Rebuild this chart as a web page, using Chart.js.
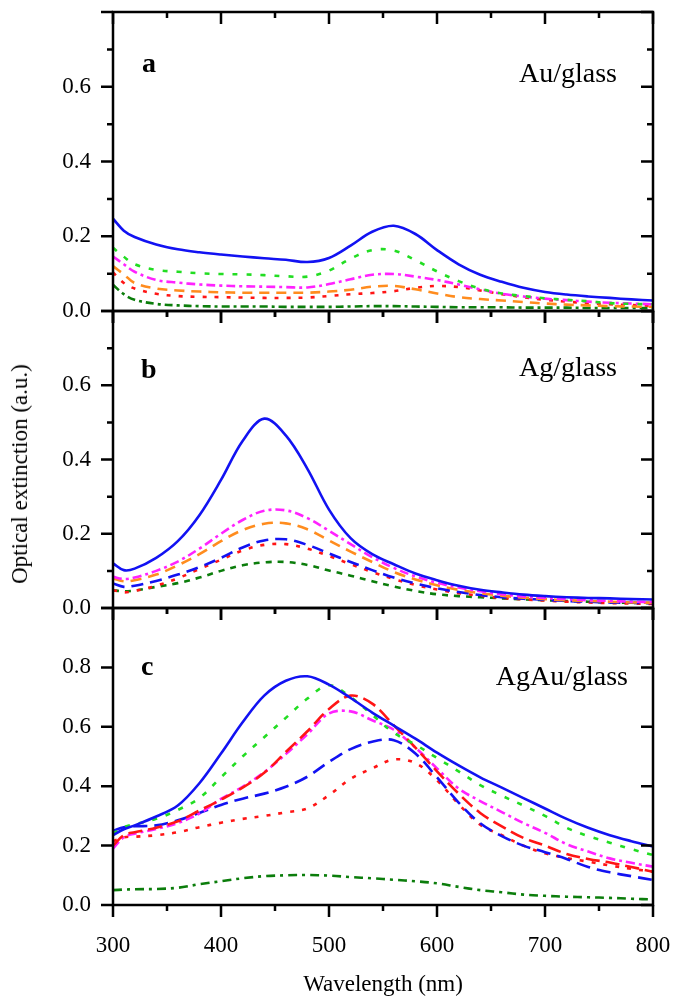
<!DOCTYPE html>
<html>
<head>
<meta charset="utf-8">
<script src="https://cdn.jsdelivr.net/npm/chart.js@4.4.1/dist/chart.umd.min.js"></script>
<style>
  body { margin: 0; background: #fff; }
  #wrap { position: relative; width: 674px; height: 1001px; overflow: hidden; }
  canvas { position: absolute; left: 0; }
  #ytitle {
    position: absolute; left: 20px; top: 474px;
    transform: translate(-50%, -50%) rotate(-90deg);
    white-space: nowrap; font: 23px "Liberation Serif", serif; color: #000;
  }
</style>
</head>
<body>
<div id="wrap">
  <canvas id="chartA" width="674" height="345" style="top:-10px"></canvas>
  <canvas id="chartB" width="674" height="345" style="top:290px"></canvas>
  <canvas id="chartC" width="674" height="414" style="top:587px"></canvas>
  <div id="ytitle">Optical extinction (a.u.)</div>
</div>
<script>
// wavelength grid (nm)
var wavelength = [300, 310, 320, 340, 360, 380, 400, 420, 440, 460, 480, 500, 520, 540, 560, 580, 600, 620, 640, 660, 680, 700, 720, 740, 760, 780, 800];

// panel a : Au/glass
var auSolid   = [0.247, 0.215, 0.198, 0.178, 0.165, 0.157, 0.151, 0.146, 0.141, 0.137, 0.131, 0.142, 0.175, 0.212, 0.228, 0.206, 0.163, 0.125, 0.097, 0.078, 0.062, 0.051, 0.044, 0.039, 0.035, 0.031, 0.028];
var auGreen   = [0.169, 0.145, 0.125, 0.110, 0.105, 0.101, 0.099, 0.098, 0.096, 0.093, 0.092, 0.108, 0.140, 0.163, 0.162, 0.136, 0.106, 0.080, 0.060, 0.047, 0.040, 0.034, 0.030, 0.026, 0.021, 0.019, 0.018];
var auMagenta = [0.146, 0.125, 0.105, 0.083, 0.076, 0.071, 0.068, 0.066, 0.065, 0.064, 0.063, 0.072, 0.085, 0.097, 0.099, 0.092, 0.083, 0.071, 0.058, 0.046, 0.039, 0.033, 0.029, 0.025, 0.022, 0.020, 0.018];
var auOrange  = [0.120, 0.098, 0.075, 0.060, 0.055, 0.052, 0.050, 0.049, 0.049, 0.049, 0.049, 0.052, 0.057, 0.065, 0.067, 0.058, 0.047, 0.037, 0.032, 0.028, 0.024, 0.020, 0.017, 0.015, 0.013, 0.012, 0.011];
var auRed     = [0.103, 0.075, 0.060, 0.046, 0.040, 0.038, 0.037, 0.036, 0.035, 0.035, 0.036, 0.040, 0.045, 0.048, 0.053, 0.062, 0.067, 0.064, 0.055, 0.045, 0.037, 0.030, 0.025, 0.021, 0.018, 0.016, 0.014];
var auDkGreen = [0.070, 0.045, 0.030, 0.019, 0.015, 0.013, 0.012, 0.012, 0.012, 0.011, 0.011, 0.011, 0.012, 0.013, 0.013, 0.012, 0.011, 0.010, 0.010, 0.010, 0.009, 0.009, 0.009, 0.008, 0.008, 0.008, 0.008];

// panel b : Ag/glass
var agSolid    = [0.120, 0.102, 0.106, 0.135, 0.180, 0.250, 0.345, 0.450, 0.510, 0.465, 0.375, 0.265, 0.188, 0.145, 0.118, 0.093, 0.075, 0.060, 0.049, 0.042, 0.036, 0.032, 0.029, 0.027, 0.026, 0.024, 0.023];
var agMagenta  = [0.084, 0.078, 0.082, 0.100, 0.125, 0.160, 0.200, 0.237, 0.262, 0.263, 0.242, 0.208, 0.172, 0.137, 0.108, 0.085, 0.068, 0.055, 0.045, 0.037, 0.031, 0.027, 0.024, 0.021, 0.019, 0.017, 0.016];
var agOrange   = [0.080, 0.072, 0.075, 0.090, 0.115, 0.145, 0.180, 0.210, 0.227, 0.228, 0.212, 0.182, 0.152, 0.124, 0.097, 0.077, 0.061, 0.049, 0.040, 0.033, 0.028, 0.024, 0.021, 0.019, 0.017, 0.015, 0.014];
var agBlueDash = [0.066, 0.057, 0.060, 0.073, 0.090, 0.110, 0.135, 0.163, 0.182, 0.185, 0.170, 0.147, 0.124, 0.102, 0.082, 0.066, 0.053, 0.043, 0.035, 0.029, 0.025, 0.022, 0.019, 0.017, 0.015, 0.014, 0.013];
var agRed      = [0.048, 0.042, 0.046, 0.060, 0.080, 0.105, 0.130, 0.155, 0.170, 0.172, 0.160, 0.140, 0.118, 0.097, 0.078, 0.062, 0.050, 0.040, 0.033, 0.027, 0.023, 0.020, 0.017, 0.015, 0.013, 0.012, 0.011];
var agDkGreen  = [0.048, 0.045, 0.047, 0.057, 0.067, 0.082, 0.100, 0.115, 0.123, 0.124, 0.116, 0.101, 0.087, 0.072, 0.058, 0.046, 0.037, 0.032, 0.029, 0.026, 0.023, 0.021, 0.019, 0.017, 0.015, 0.014, 0.013];

// panel c : AgAu/glass
var agauSolid    = [0.235, 0.255, 0.268, 0.298, 0.335, 0.410, 0.510, 0.615, 0.705, 0.755, 0.770, 0.742, 0.697, 0.648, 0.604, 0.560, 0.513, 0.470, 0.430, 0.395, 0.360, 0.325, 0.290, 0.260, 0.235, 0.215, 0.197];
var agauGreen    = [0.240, 0.262, 0.272, 0.290, 0.320, 0.360, 0.430, 0.500, 0.565, 0.630, 0.695, 0.740, 0.700, 0.640, 0.580, 0.540, 0.495, 0.450, 0.404, 0.368, 0.335, 0.300, 0.260, 0.232, 0.210, 0.188, 0.168];
var agauRedDash  = [0.200, 0.235, 0.245, 0.260, 0.282, 0.318, 0.355, 0.395, 0.445, 0.515, 0.585, 0.660, 0.705, 0.678, 0.605, 0.530, 0.450, 0.375, 0.310, 0.265, 0.226, 0.200, 0.172, 0.155, 0.143, 0.128, 0.112];
var agauMagenta  = [0.190, 0.228, 0.240, 0.256, 0.276, 0.308, 0.357, 0.398, 0.447, 0.508, 0.575, 0.645, 0.652, 0.622, 0.590, 0.530, 0.460, 0.392, 0.350, 0.313, 0.276, 0.243, 0.205, 0.180, 0.157, 0.142, 0.129];
var agauBlueDash = [0.250, 0.262, 0.265, 0.268, 0.285, 0.310, 0.337, 0.358, 0.375, 0.398, 0.432, 0.482, 0.525, 0.550, 0.555, 0.510, 0.430, 0.345, 0.275, 0.232, 0.200, 0.178, 0.155, 0.128, 0.110, 0.097, 0.084];
var agauRedDot   = [0.215, 0.228, 0.230, 0.235, 0.245, 0.262, 0.277, 0.290, 0.300, 0.312, 0.325, 0.370, 0.425, 0.460, 0.490, 0.478, 0.420, 0.340, 0.270, 0.235, 0.200, 0.174, 0.158, 0.146, 0.133, 0.122, 0.112];
var agauDkGreen  = [0.050, 0.052, 0.053, 0.054, 0.058, 0.070, 0.080, 0.090, 0.097, 0.100, 0.101, 0.099, 0.094, 0.090, 0.085, 0.080, 0.073, 0.061, 0.050, 0.043, 0.035, 0.031, 0.028, 0.026, 0.024, 0.021, 0.019];

var BLUE = '#1212f2', GREEN = '#22dd22', MAGENTA = '#ff22ff', ORANGE = '#ff8c1e', RED = '#ff1515', DKGREEN = '#0b7d0b';

Chart.defaults.font.family = '"Liberation Serif", "Times New Roman", serif';
Chart.defaults.color = '#000';

function line(values, color, dash) {
  return {
    data: wavelength.map(function (w, i) { return { x: w, y: values[i] }; }),
    borderColor: color,
    borderDash: dash,
    borderWidth: 2.6,
    pointRadius: 0,
    fill: false,
    tension: 0.35
  };
}

// box around each panel, with outward ticks left/bottom and inward ticks top/right
var frameTicks = {
  id: 'frameTicks',
  afterDatasetsDraw: function (chart) {
    var ctx = chart.ctx, a = chart.chartArea, xs = chart.scales.x, ys = chart.scales.y;
    ctx.save();
    ctx.strokeStyle = '#000';
    ctx.lineWidth = 2.5;
    ctx.beginPath();
    xs.ticks.forEach(function (t) {
      var px = xs.getPixelForValue(t.value), len = t.value % 100 === 0 ? 12 : 6;
      ctx.moveTo(px, a.bottom); ctx.lineTo(px, a.bottom + len);
      ctx.moveTo(px, a.top); ctx.lineTo(px, a.top + len);
    });
    ys.ticks.forEach(function (t) {
      var py = ys.getPixelForValue(t.value), len = Math.round(t.value * 10) % 2 === 0 ? 12 : 6;
      ctx.moveTo(a.left, py); ctx.lineTo(a.left - len, py);
      ctx.moveTo(a.right, py); ctx.lineTo(a.right - len, py);
    });
    ctx.stroke();
    ctx.strokeRect(a.left, a.top, a.right - a.left, a.bottom - a.top);
    ctx.restore();
  }
};

var panelText = {
  id: 'panelText',
  afterDraw: function (chart, args, o) {
    var ctx = chart.ctx, top = chart.chartArea.top;
    ctx.save();
    ctx.fillStyle = '#000';
    ctx.textBaseline = 'alphabetic';
    ctx.font = 'bold 28px "Liberation Serif"';
    ctx.textAlign = 'left';
    ctx.fillText(o.letter, o.letterX, top + o.letterY);
    ctx.font = '28px "Liberation Serif"';
    ctx.textAlign = 'right';
    ctx.fillText(o.name, o.nameX, top + o.nameY);
    ctx.restore();
  }
};

// label offsets come from invisible tick marks (tickLength) rather than
// ticks.padding, since ticks.padding also pushes the plot area inwards
function panel(id, sets, yMax, pad, txt, bottom) {
  var topK = Math.round(yMax * 10);
  var x = {
    type: 'linear', min: 300, max: 800, display: bottom,
    grid: { drawOnChartArea: false, drawTicks: true, tickLength: 25, tickColor: 'rgba(0,0,0,0)' },
    border: { display: false },
    ticks: {
      stepSize: 50, autoSkip: false, maxRotation: 0, padding: 2,
      font: { size: 23 },
      callback: function (v) { return v % 100 === 0 ? String(v) : ''; }
    },
    title: { display: bottom, text: 'Wavelength (nm)', font: { size: 23 }, padding: { top: 0, bottom: 2 } }
  };
  if (bottom) x.afterFit = function (s) { s.height = 96; };
  new Chart(document.getElementById(id), {
    type: 'line',
    data: { datasets: sets },
    options: {
      animation: false,
      responsive: false,
      devicePixelRatio: 1,
      layout: { padding: pad },
      plugins: { legend: { display: false }, tooltip: { enabled: false }, panelText: txt },
      scales: {
        x: x,
        y: {
          min: 0, max: yMax,
          grid: { drawOnChartArea: false, drawTicks: true, tickLength: 20, tickColor: 'rgba(0,0,0,0)' },
          border: { display: false },
          ticks: {
            stepSize: 0.1, padding: 2, font: { size: 23 },
            callback: function (v) {
              var k = Math.round(v * 10);
              return (k % 2 === 0 && k < topK) ? v.toFixed(1) : '';
            }
          },
          afterFit: function (s) { s.width = 113; }
        }
      }
    },
    plugins: [frameTicks, panelText]
  });
}

panel('chartA', [
  line(auSolid, BLUE, []),
  line(auGreen, GREEN, [5, 9]),
  line(auMagenta, MAGENTA, [9, 4, 3, 4]),
  line(auOrange, ORANGE, [10, 7]),
  line(auRed, RED, [4, 8]),
  line(auDkGreen, DKGREEN, [8, 4, 3, 4])
], 0.8, { left: 0, right: 21, top: 22, bottom: 24 },
  { letter: 'a', letterX: 142, letterY: 60, name: 'Au/glass', nameX: 617, nameY: 70 }, false);

panel('chartB', [
  line(agSolid, BLUE, []),
  line(agMagenta, MAGENTA, [9, 4, 3, 4]),
  line(agOrange, ORANGE, [11, 7]),
  line(agBlueDash, BLUE, [12, 7]),
  line(agRed, RED, [4, 8]),
  line(agDkGreen, DKGREEN, [6, 6])
], 0.8, { left: 0, right: 21, top: 21, bottom: 27 },
  { letter: 'b', letterX: 141, letterY: 67, name: 'Ag/glass', nameX: 617, nameY: 65 }, false);

panel('chartC', [
  line(agauSolid, BLUE, []),
  line(agauGreen, GREEN, [5, 9]),
  line(agauRedDash, RED, [14, 6]),
  line(agauMagenta, MAGENTA, [9, 4, 3, 4]),
  line(agauBlueDash, BLUE, [14, 7]),
  line(agauRedDot, RED, [4, 8]),
  line(agauDkGreen, DKGREEN, [9, 5, 3, 5])
], 1.0, { left: 0, right: 21, top: 21, bottom: 0 },
  { letter: 'c', letterX: 141, letterY: 67, name: 'AgAu/glass', nameX: 628, nameY: 77 }, true);
</script>
</body>
</html>
